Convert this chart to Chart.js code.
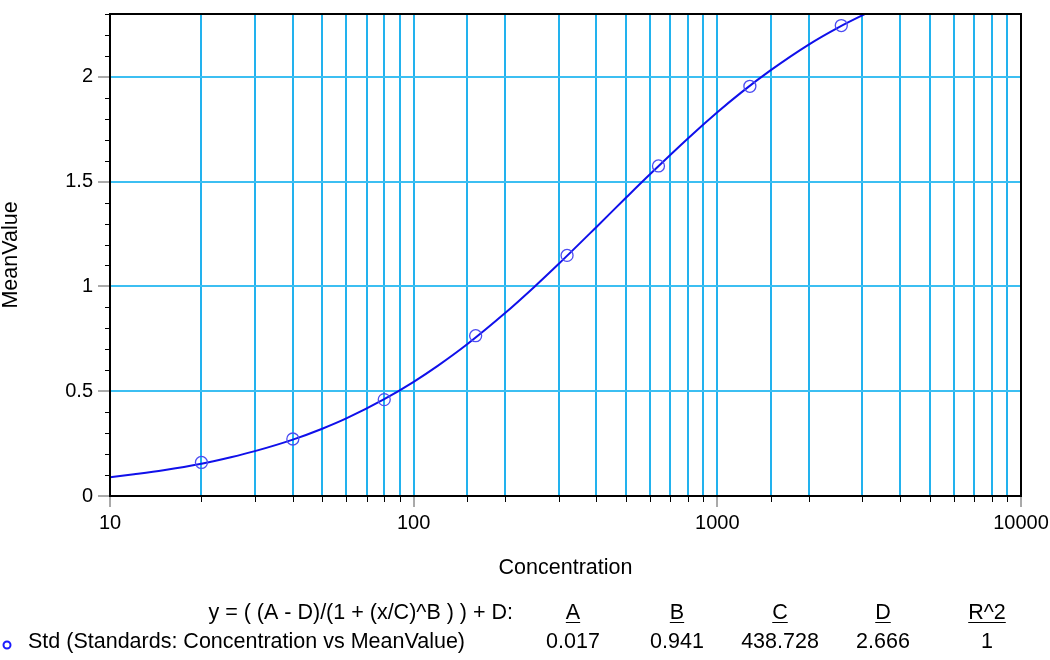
<!DOCTYPE html>
<html>
<head>
<meta charset="utf-8">
<script src="https://cdn.jsdelivr.net/npm/chart.js@4.4.1/dist/chart.umd.min.js"></script>
<style>
  html, body { margin: 0; padding: 0; background: #ffffff; }
  #wrap { width: 1050px; height: 660px; }
</style>
</head>
<body>
<div id="wrap"><canvas id="c" width="1050" height="660"></canvas></div>
<script>
// ---- Data ----
const concentrations = [20, 40, 80, 160, 320, 640, 1280, 2560];
const meanValues = [0.16, 0.272, 0.46, 0.765, 1.148, 1.575, 1.955, 2.245];

// fitted curve, sampled along the drawn line
const curveX = [10, 12, 15, 20, 25, 30, 40, 50, 60, 80, 100, 120, 150, 200, 250, 300, 400, 500, 600, 800, 1000, 1200, 1500, 2000, 2500, 3000, 3200];
const curveY = [0.090, 0.104, 0.123, 0.154, 0.185, 0.214, 0.269, 0.321, 0.370, 0.462, 0.545, 0.621, 0.724, 0.873, 0.999, 1.107, 1.284, 1.423, 1.535, 1.706, 1.831, 1.926, 2.032, 2.154, 2.235, 2.293, 2.312];

const xTickLabels = ['10', '100', '1000', '10000'];
const yTickLabels = ['0', '0.5', '1', '1.5', '2'];

const xTitle = 'Concentration';
const yTitle = 'MeanValue';
const equationText = 'y = ( (A - D)/(1 + (x/C)^B ) ) + D:';
const seriesLabel = 'Std (Standards: Concentration vs MeanValue)';
const paramNames = ['A', 'B', 'C', 'D', 'R^2'];
const paramValues = ['0.017', '0.941', '438.728', '2.666', '1'];

// ---- Styles ----
const FONT = '"Liberation Sans", Arial, sans-serif';
const GRID_V = '#22b2ee';
const GRID_H = '#3cbff2';
const CURVE = '#1010ea';
const POINT = '#4c4cf2';

function isMajorX(v) { return Math.abs(Math.log10(v) - Math.round(Math.log10(v))) < 1e-9; }
function isMajorY(v) { return Math.abs(v * 2 - Math.round(v * 2)) < 1e-6; }

const pointsData = concentrations.map((x, i) => ({ x: x, y: meanValues[i] }));
const curveData = curveX.map((x, i) => ({ x: x, y: curveY[i] }));

const decorPlugin = {
  id: 'decor',
  afterDraw(chart) {
    const ctx = chart.ctx;
    const a = chart.chartArea;
    const xs = chart.scales.x, ys = chart.scales.y;
    ctx.save();
    // frame
    ctx.strokeStyle = '#000';
    ctx.lineWidth = 2;
    ctx.strokeRect(a.left, a.top, a.right - a.left, a.bottom - a.top);
    // minor ticks
    ctx.lineWidth = 1;
    ctx.strokeStyle = '#000';
    ctx.beginPath();
    xs.ticks.forEach((t, i) => {
      if (!isMajorX(t.value)) {
        const px = Math.round(xs.getPixelForTick(i)) + 0.5;
        ctx.moveTo(px, a.bottom); ctx.lineTo(px, a.bottom + 6);
      }
    });
    ys.ticks.forEach((t, i) => {
      if (!isMajorY(t.value)) {
        const py = Math.round(ys.getPixelForTick(i)) + 0.5;
        ctx.moveTo(a.left - 5, py); ctx.lineTo(a.left, py);
      }
    });
    ctx.stroke();

    // legend / fit table
    ctx.fillStyle = '#000';
    ctx.font = '21.5px ' + FONT;
    ctx.textBaseline = 'middle';
    const row1 = 613, row2 = 642;
    ctx.textAlign = 'right';
    ctx.fillText(equationText, 513, row1);
    ctx.textAlign = 'left';
    ctx.fillText(seriesLabel, 28, row2);
    // marker
    ctx.strokeStyle = '#1a1aff';
    ctx.lineWidth = 2;
    ctx.beginPath();
    ctx.arc(7, 645, 3.5, 0, Math.PI * 2);
    ctx.stroke();
    const colX = [573, 677, 780, 883, 987];
    ctx.textAlign = 'center';
    ctx.strokeStyle = '#000';
    ctx.lineWidth = 1;
    paramNames.forEach((n, i) => {
      ctx.fillText(n, colX[i], row1);
      const w = ctx.measureText(n).width;
      ctx.beginPath();
      ctx.moveTo(colX[i] - w / 2, 622.5);
      ctx.lineTo(colX[i] + w / 2, 622.5);
      ctx.stroke();
      ctx.fillText(paramValues[i], colX[i], row2);
    });
    ctx.restore();
  }
};

new Chart(document.getElementById('c'), {
  type: 'scatter',
  data: {
    datasets: [
      {
        label: 'fit',
        data: curveData,
        showLine: true,
        borderColor: CURVE,
        borderWidth: 2,
        pointRadius: 0,
        cubicInterpolationMode: 'monotone',
        fill: false,
        order: 2
      },
      {
        label: 'Std',
        data: pointsData,
        showLine: false,
        borderColor: POINT,
        backgroundColor: 'rgba(0,0,0,0)',
        borderWidth: 1.3,
        pointRadius: 6,
        pointStyle: 'circle',
        order: 1
      }
    ]
  },
  options: {
    responsive: false,
    animation: false,
    devicePixelRatio: 1,
    layout: { padding: { top: 14, right: 29, left: 0, bottom: 0 } },
    plugins: { legend: { display: false }, tooltip: { enabled: false } },
    scales: {
      x: {
        type: 'logarithmic',
        min: 10,
        max: 10000,
        afterFit(s) { s.height = 164; s.paddingLeft = 0; s.paddingRight = 0; },
        border: { display: false },
        grid: {
          color: ctx => (ctx.tick && (ctx.tick.value === 10 || ctx.tick.value === 10000)) ? 'rgba(0,0,0,0)' : GRID_V,
          lineWidth: 2,
          tickLength: 11,
          tickWidth: 1,
          tickColor: ctx => (ctx.tick && isMajorX(ctx.tick.value)) ? '#555' : 'rgba(0,0,0,0)'
        },
        ticks: {
          autoSkip: false,
          maxRotation: 0,
          minRotation: 0,
          padding: 4,
          color: '#000',
          font: { family: FONT, size: 20 },
          callback: function (v) {
            if (!isMajorX(v)) return '';
            const i = Math.round(Math.log10(v)) - 1;
            return xTickLabels[i] !== undefined ? xTickLabels[i] : '';
          }
        },
        title: {
          display: true,
          text: xTitle,
          color: '#000',
          font: { family: FONT, size: 21.5, lineHeight: 1 },
          padding: { top: 0, bottom: 81 }
        }
      },
      y: {
        type: 'linear',
        min: 0,
        max: 2.3,
        afterFit(s) { s.width = 110; s.paddingTop = 0; s.paddingBottom = 0; },
        border: { display: false },
        grid: {
          color: ctx => (ctx.tick && isMajorY(ctx.tick.value) && ctx.tick.value > 0.01) ? GRID_H : 'rgba(0,0,0,0)',
          lineWidth: 2,
          tickLength: 12,
          tickWidth: 1,
          tickColor: ctx => (ctx.tick && isMajorY(ctx.tick.value)) ? '#555' : 'rgba(0,0,0,0)'
        },
        ticks: {
          stepSize: 0.1,
          autoSkip: false,
          padding: 5,
          color: '#000',
          font: { family: FONT, size: 20 },
          callback: function (v) {
            if (!isMajorY(v)) return '';
            const i = Math.round(v * 2);
            return yTickLabels[i] !== undefined ? yTickLabels[i] : '';
          }
        },
        title: {
          display: true,
          text: yTitle,
          color: '#000',
          font: { family: FONT, size: 21.5, lineHeight: 1 },
          padding: { top: 0, bottom: 0 }
        }
      }
    }
  },
  plugins: [decorPlugin]
});
</script>
</body>
</html>
